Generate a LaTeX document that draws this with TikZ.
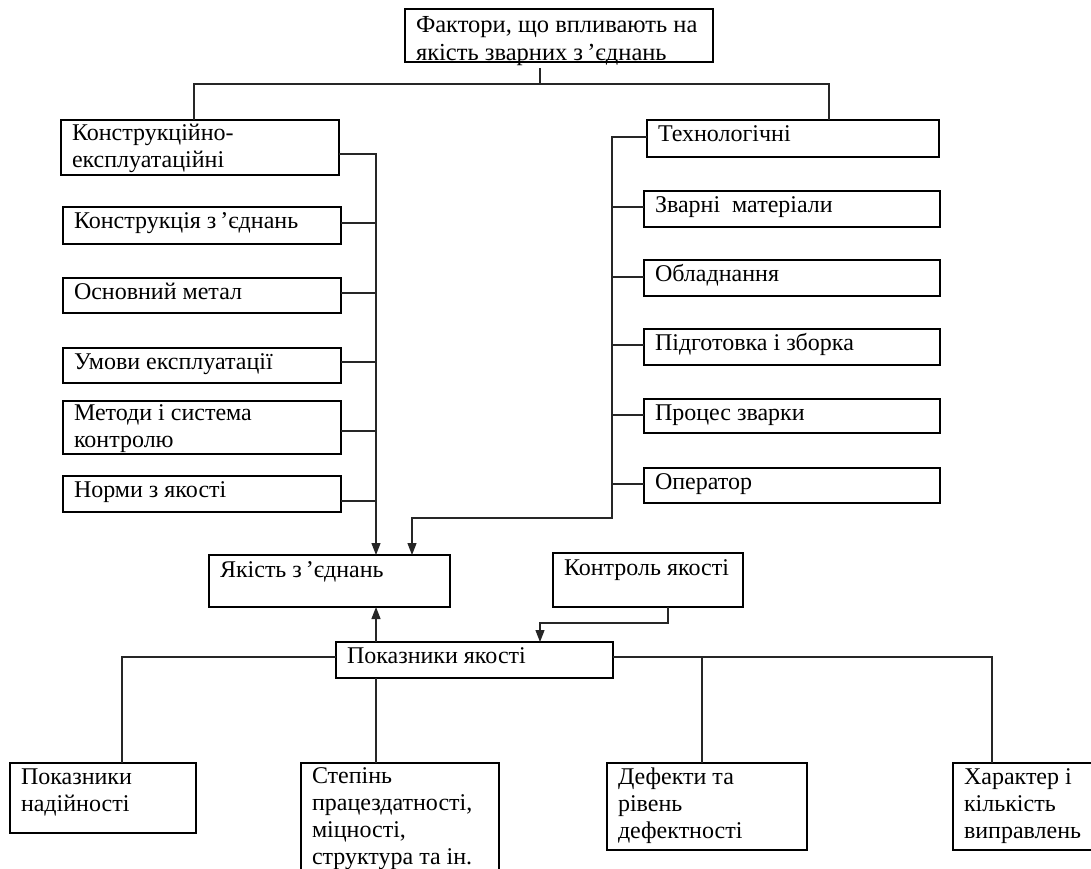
\documentclass[tikz,border=0pt]{standalone}
\usepackage{fontspec}
\setmainfont{Liberation Serif}
\usetikzlibrary{arrows.meta}
\newcommand\bt[4][21]{\parbox[t][#3pt][t]{#2pt}{\leftskip=11pt\rightskip=0pt plus 1fil\parindent=0pt\rule{0pt}{#1pt}#4}}
\tikzset{
  box/.style={draw=black, line width=1.2pt, inner sep=0pt, outer sep=0pt, anchor=north west,
              font=\fontsize{24pt}{27pt}\selectfont},
  bigbox/.style={box, font=\fontsize{24.5pt}{28pt}\selectfont},
  ln/.style={draw=black!85, line width=1.2pt},
  arr/.style={-{Triangle[length=12pt,width=9pt]}}
}
\begin{document}
\begin{tikzpicture}[x=1pt,y=-1pt]
\fill[white] (0,0) rectangle (1091,868);
\useasboundingbox (0,0) rectangle (1091,868);
% top
\node[bigbox] (top) at (405,9) {\bt[23]{308}{53}{Фактори, що впливають на\\якість зварних з\,’єднань}};
% left column
\node[box] (L0) at (61,120) {\bt[20]{278}{55}{Конструкційно-\\експлуатаційні}};
\node[box] (L1) at (63,207) {\bt{278}{37}{Конструкція з\,’єднань}};
\node[box] (L2) at (63,278) {\bt{278}{35}{Основний метал}};
\node[box] (L3) at (63,348) {\bt{278}{35}{Умови експлуатації}};
\node[box] (L4) at (63,401) {\bt[19]{278}{53}{Методи і система\\контролю}};
\node[box] (L5) at (63,476) {\bt{278}{36}{Норми з якості}};
% right column
\node[box] (R0) at (647,120) {\bt{292}{37}{Технологічні}};
\node[box] (R1) at (644,191) {\bt{296}{36}{Зварні\ \ матеріали}};
\node[box] (R2) at (644,260) {\bt{296}{36}{Обладнання}};
\node[box] (R3) at (644,329) {\bt{296}{36}{Підготовка і зборка}};
\node[box] (R4) at (644,399) {\bt{296}{34}{Процес зварки}};
\node[box] (R5) at (644,468) {\bt{296}{35}{Оператор}};
% middle
\node[box] (Q) at (209,555) {\bt[22]{241}{52}{Якість з\,’єднань}};
\node[box] (K) at (553,553) {\bt[22]{190}{54}{Контроль якості}};
\node[box] (P) at (336,642) {\bt{277}{36}{Показники якості}};
% bottom
\node[box] (B1) at (10,763) {\bt{186}{70}{Показники\\надійності}};
\node[box] (B2) at (301,763) {\bt[20]{198}{125}{Степінь\\працездатності,\\міцності,\\структура та ін.}};
\node[box] (B3) at (607,763) {\bt{200}{87}{Дефекти та\\рівень\\дефектності}};
\node[box] (B4) at (953,763) {\bt{160}{87}{Характер і\\кількість\\виправлень}};
% top tree
\draw[ln] ([yshift=-6pt]540,0 |- top.south) -- (540,84);
\draw[ln] (194,0 |- L0.north) |- (829,84) -- (829,0 |- R0.north);
% left bus
\draw[ln,arr] (L0.east |- 0,154) -| (376,0 |- Q.north);
\draw[ln] (L1.east |- 0,223) -- (376,223);
\draw[ln] (L2.east |- 0,293) -- (376,293);
\draw[ln] (L3.east |- 0,362) -- (376,362);
\draw[ln] (L4.east |- 0,431) -- (376,431);
\draw[ln] (L5.east |- 0,501) -- (376,501);
% right bus
\draw[ln,arr] (R0.west |- 0,137) -| (612,518) -| (412,0 |- Q.north);
\draw[ln] (612,207) -- (R1.west |- 0,207);
\draw[ln] (612,277) -- (R2.west |- 0,277);
\draw[ln] (612,345) -- (R3.west |- 0,345);
\draw[ln] (612,415) -- (R4.west |- 0,415);
\draw[ln] (612,484) -- (R5.west |- 0,484);
% middle
\draw[ln,arr] (376,0 |- P.north) -- (376,0 |- Q.south);
\draw[ln,arr] (668,0 |- K.south) |- (540,623) -- (540,0 |- P.north);
% bottom tree
\draw[ln] (P.west |- 0,657) -| (122,0 |- B1.north);
\draw[ln] (P.east |- 0,657) -| (992,0 |- B4.north);
\draw[ln] (702,657) -- (702,0 |- B3.north);
\draw[ln] (376,0 |- P.south) -- (376,0 |- B2.north);
\end{tikzpicture}
\end{document}
